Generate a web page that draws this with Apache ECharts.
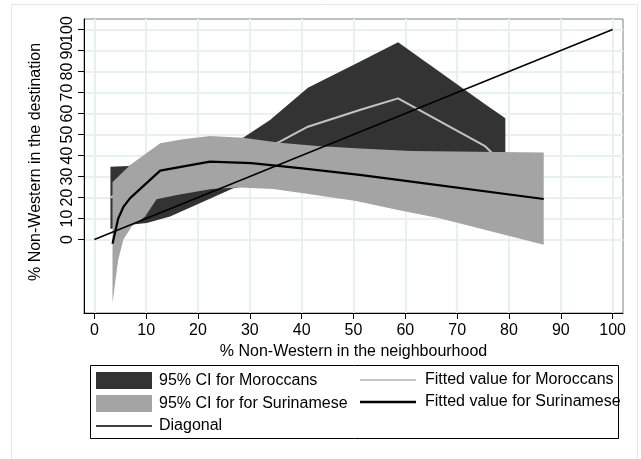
<!DOCTYPE html>
<html><head><meta charset="utf-8">
<script src="https://cdn.jsdelivr.net/npm/echarts@6/dist/echarts.min.js"></script>
<style>html,body{margin:0;padding:0;background:#fff}#c{width:641px;height:459px}</style>
</head><body><div id="c"></div>
<script>
// ---- data ----
const xTickValues = [0, 10, 20, 30, 40, 50, 60, 70, 80, 90, 100];
const yTickValues = [0, 10, 20, 30, 40, 50, 60, 70, 80, 90, 100];

const moroccanCIUpper = [[3.1,34.7],[6.6,35.0],[12,38],[20,43],[28.7,48.5],[33.9,56.9],[41.2,72.3],[51.2,84.6],[58.6,93.9],[75.6,64.0],[79.3,57.7]];
const moroccanCILower = [[3.1,5.0],[5.6,6.7],[10.1,7.8],[14.6,10.9],[19.7,16.5],[26.8,24.4],[33,27],[41,30],[51,32],[58.6,33],[75.6,34],[79.3,34]];

const surinameseCIUpper = [[3.5,27.3],[6.9,35.5],[12.7,45.8],[17.1,47.7],[22.3,49.3],[28.7,48.5],[35.8,46.1],[43,44.5],[51.2,43.3],[61.2,42.2],[86.7,41.4]];
const surinameseCILower = [[3.5,-30.2],[4.0,-20.7],[4.6,-9.6],[5.6,0],[7.2,6.2],[9.8,10.9],[12,19.2],[16.2,21.3],[22.6,24],[28,24.8],[34.5,24.1],[40.3,22],[50.5,18.3],[58.6,14.1],[66.6,10.1],[86.7,-2.5]];

const moroccanFitted = [[3.1,20],[6.6,24],[10.1,28],[14.6,32],[19.7,36],[26.8,40],[33.9,44.5],[35.8,46.6],[41.2,53.7],[51.2,61.7],[58.6,67.2],[75.3,44.6],[79.3,35]];
const surinameseFitted = [[3.5,-2],[4.6,10],[5.6,15.5],[6.9,19.7],[12.7,32.8],[22.3,37.1],[30.3,36.4],[40.1,33.9],[51.2,30.8],[58.6,28.4],[86.7,19.3]];
const diagonal = [[0,0],[100,100]];

const FONT = '"Liberation Sans", Arial, sans-serif';

function bandSeries(name, upper, lower, color, z) {
  const poly = upper.concat(lower.slice().reverse());
  return {
    name: name,
    type: 'custom',
    coordinateSystem: 'cartesian2d',
    z: z,
    itemStyle: { color: color },
    encode: { x: 0, y: 1 },
    data: poly,
    silent: true,
    renderItem: function (params, api) {
      if (params.dataIndex !== 0) return null;
      const pts = poly.map(p => api.coord(p));
      return { type: 'polygon', shape: { points: pts }, style: { fill: color, stroke: null } };
    }
  };
}

// thin horizontal bar icons for line entries in the legend
const lineIcon = h => 'path://M0,0H56V' + h + 'H0Z';

// y labels: the top one ("100") sits on its own twin axis so the overlap check can't drop it
const yLabelsMain = yTickValues.slice(0, -1);
const yLabelsTop = yTickValues.slice(-1);
const yLabelStyle = { fontSize: 16, color: '#000', margin: 8, rotate: 90, fontFamily: FONT, hideOverlap: false };

const chart = echarts.init(document.getElementById('c'), null, { renderer: 'canvas' });
chart.setOption({
  animation: false,
  backgroundColor: '#ffffff',
  textStyle: { fontFamily: FONT },
  grid: { left: 84, top: 19, width: 539, height: 294, show: true, borderColor: '#808080', borderWidth: 1, backgroundColor: 'transparent' },
  xAxis: {
    type: 'value', min: -2, max: 102,
    name: '% Non-Western in the neighbourhood', nameLocation: 'middle', nameGap: 17,
    nameTextStyle: { fontSize: 16, color: '#000', fontFamily: FONT },
    axisLine: { show: true, onZero: false, lineStyle: { color: '#000', width: 1 } },
    axisTick: { show: true, length: 6, lineStyle: { color: '#000' }, customValues: xTickValues },
    axisLabel: { fontSize: 16, color: '#000', margin: 10, fontFamily: FONT, customValues: xTickValues, hideOverlap: false },
    splitLine: { show: true, lineStyle: { color: '#e8f0f2', width: 2 } }
  },
  yAxis: [
    {
      type: 'value', min: -35, max: 105, position: 'left',
      name: '% Non-Western in the destination', nameLocation: 'middle', nameGap: 40,
      nameTextStyle: { fontSize: 16, color: '#000', fontFamily: FONT, padding: [0, 0, 0, 8] },
      axisLine: { show: true, onZero: false, lineStyle: { color: '#000', width: 1 } },
      axisTick: { show: true, length: 6, lineStyle: { color: '#000' }, customValues: yTickValues },
      axisLabel: Object.assign({ customValues: yLabelsMain }, yLabelStyle),
      splitLine: { show: true, lineStyle: { color: '#e8f0f2', width: 2 } }
    },
    {
      type: 'value', min: -35, max: 105, position: 'left', offset: 0,
      axisLine: { show: false, onZero: false },
      axisTick: { show: false, customValues: yLabelsTop },
      axisLabel: Object.assign({ customValues: yLabelsTop, showMaxLabel: true }, yLabelStyle),
      splitLine: { show: false }
    }
  ],
  legend: [
    {
      orient: 'vertical', left: 96, top: 372, padding: 0, itemWidth: 56, itemHeight: 17, itemGap: 6,
      selectedMode: false, symbolKeepAspect: true,
      textStyle: { fontSize: 16, color: '#000', fontFamily: FONT, padding: [0, 0, 0, 2] },
      data: [
        { name: '95% CI for Moroccans', icon: 'rect' },
        { name: '95% CI for for Surinamese', icon: 'rect' },
        { name: 'Diagonal', icon: lineIcon(1.5) }
      ]
    },
    {
      orient: 'vertical', left: 360, top: 372, padding: 0, itemWidth: 56, itemHeight: 17, itemGap: 6,
      selectedMode: false, symbolKeepAspect: true,
      textStyle: { fontSize: 16, color: '#000', fontFamily: FONT, padding: [0, 0, 0, 4] },
      data: [
        { name: 'Fitted value for Moroccans', icon: lineIcon(2) },
        { name: 'Fitted value for Surinamese', icon: lineIcon(2.4) }
      ]
    }
  ],
  graphic: [
    { type: 'rect', silent: true, z: -10, shape: { x: 11.5, y: 4.5, width: 626, height: 470 }, style: { fill: null, stroke: '#e1e9ec', lineWidth: 1 } },
    { type: 'rect', silent: true, shape: { x: 90.5, y: 365.5, width: 528, height: 73 }, style: { fill: null, stroke: '#000', lineWidth: 1 } }
  ],
  series: [
    bandSeries('95% CI for Moroccans', moroccanCIUpper, moroccanCILower, '#333333', 1),
    { name: 'Fitted value for Moroccans', type: 'line', z: 2, data: moroccanFitted, symbol: 'none', silent: true,
      lineStyle: { color: '#c4c4c4', width: 2 }, itemStyle: { color: '#c4c4c4' } },
    bandSeries('95% CI for for Surinamese', surinameseCIUpper, surinameseCILower, '#a4a4a4', 3),
    { name: 'Fitted value for Surinamese', type: 'line', z: 4, data: surinameseFitted, symbol: 'none', silent: true,
      lineStyle: { color: '#000', width: 2.2 }, itemStyle: { color: '#000' } },
    { name: 'Diagonal', type: 'line', z: 5, data: diagonal, symbol: 'none', silent: true,
      lineStyle: { color: '#000', width: 1.5 }, itemStyle: { color: '#000' } }
  ]
});
</script>
</body></html>
